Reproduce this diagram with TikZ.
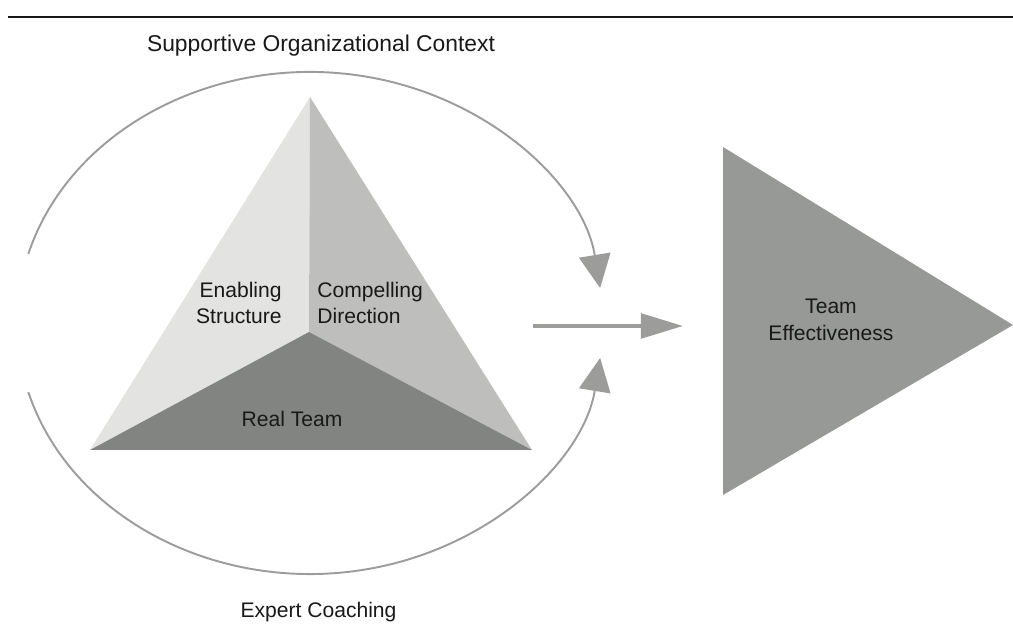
\documentclass[tikz,border=0pt]{standalone}
\usepackage{fontspec}
\setmainfont{Liberation Sans}
\usepackage{tikz}
\usetikzlibrary{arrows.meta}
\definecolor{faceA}{HTML}{E3E3E1}
\definecolor{faceB}{HTML}{BEBEBC}
\definecolor{faceC}{HTML}{828482}
\definecolor{goalgray}{HTML}{979996}
\definecolor{ringgray}{HTML}{9C9D9B}
\tikzset{
    caption/.style={font=\fontsize{12}{15}\selectfont, text=black!90, inner sep=0pt}, % 文字标签
    ring/.style={draw=ringgray, line width=1.1pt, -{Triangle[length=19pt, width=18pt, fill=ringgray]}}, % 外圈箭头
    flow/.style={draw=ringgray, line width=2.3pt, -{Triangle[length=24pt, width=14pt, fill=ringgray]}} % 中间箭头
}

\begin{document}
\begin{tikzpicture}
            \useasboundingbox (0,0) rectangle (20.26,12.74);

            \draw[line width=1.5pt, black!90] (0.16,12.4) -- (20.26,12.4);
            \node[caption, font=\fontsize{13}{15}\selectfont] (context) at (6.42,11.82) {Supportive Organizational Context};
            \node[caption] (coaching) at (6.37,0.5) {Expert Coaching};

          % 三棱锥
          \coordinate (apex) at (6.2,10.8);
          \coordinate (mid)  at (6.18,6.1);
          \coordinate (bl)   at (1.8,3.74);
          \coordinate (br)   at (10.64,3.74);

          \foreach \p / \q / \shade in {
              apex/bl/faceA,
              apex/br/faceB,
              bl/br/faceC} {
              \fill[fill=\shade] (\p) -- (mid) -- (\q) -- cycle;
          }

          \node[caption, align=right, anchor=east] (enabling) at (5.64,6.68) {Enabling\\Structure};
          \node[caption, align=left, anchor=west] (direction) at (6.34,6.68) {Compelling\\Direction};
          \node[caption] (realteam) at (5.84,4.36) {Real Team};

          % 外圈
          \coordinate (ctx) at (6.2,6.28);
          \draw[ring] (ctx) ++(164:5.86 and 5.02) coordinate (topstart)
              arc[start angle=164, end angle=8, x radius=5.86, y radius=5.02];
          \draw[ring] (ctx) ++(196:5.86 and 5.02) coordinate (botstart)
              arc[start angle=196, end angle=352, x radius=5.86, y radius=5.02];

          % 团队效能
          \fill[goalgray] (14.46,9.8) -- (20.26,6.24) -- (14.46,2.84) -- cycle;
          \node[caption, align=center] (effect) at (16.62,6.34) {Team\\Effectiveness};

          \coordinate (flowstart) at (10.66,6.22);
          \coordinate (flowend) at (13.66,6.22);
          \draw[flow] (flowstart) -- (flowend);

        \end{tikzpicture}
\end{document}
